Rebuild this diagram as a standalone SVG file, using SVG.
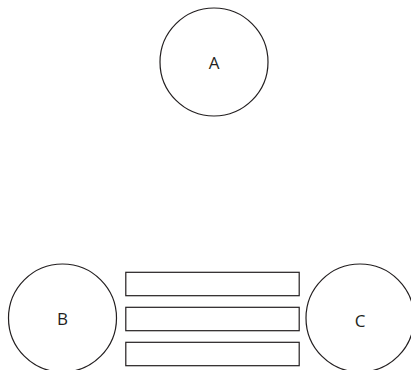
<svg xmlns="http://www.w3.org/2000/svg" width="411" height="370" viewBox="0 0 411 370">
<style>
.n{fill:#fff;stroke:#231f20;stroke-width:1.2}
.t{font-family:"Open Sans","Liberation Sans",sans-serif;font-size:17px;fill:#231f20;text-anchor:middle;dominant-baseline:central}
</style>
<rect width="411" height="370" fill="#fff"/>
<g id="A"><circle class="n" cx="214" cy="62" r="54"/><text class="t" x="214" y="62">A</text></g>
<g id="B"><circle class="n" cx="62.5" cy="318" r="54"/><text class="t" x="62.5" y="318">B</text></g>
<g id="C"><circle class="n" cx="360" cy="318" r="54"/><text class="t" x="360" y="320">C</text></g>
<g id="bars">
<rect class="n" x="125.8" y="272.3" width="173.4" height="23.4"/>
<rect class="n" x="125.8" y="307.3" width="173.4" height="23.4"/>
<rect class="n" x="125.8" y="342.3" width="173.4" height="23.4"/>
</g>
<g id="connectors"></g>
</svg>
